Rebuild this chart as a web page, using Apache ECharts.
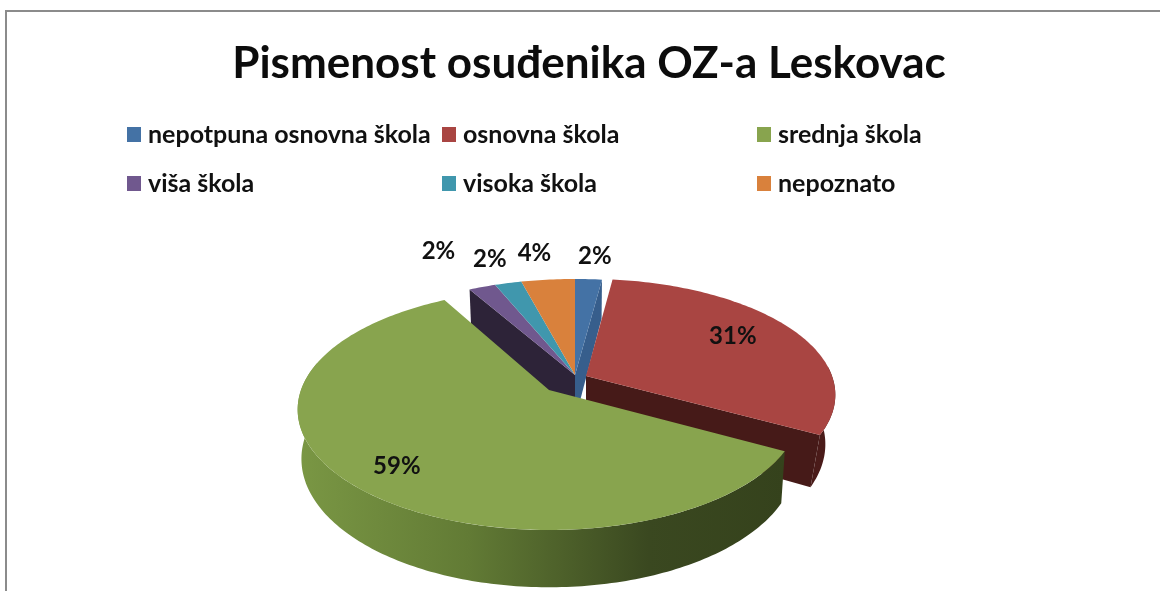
<!DOCTYPE html>
<html>
<head>
<meta charset="utf-8">
<style>html,body{margin:0;padding:0;background:#fff}#c{width:1160px;height:591px}</style>
<script src="https://cdn.jsdelivr.net/npm/echarts@6/dist/echarts.min.js"></script>
</head>
<body>
<div id="c"></div>
<script>
var titleText = 'Pismenost osuđenika OZ-a Leskovac';
var categories = ['nepotpuna osnovna škola', 'osnovna škola', 'srednja škola', 'viša škola', 'visoka škola', 'nepoznato'];
var values = [2, 31, 59, 2, 2, 4];

var topColors = ['#4472A5', '#A94542', '#88A44E', '#70588E', '#4097AD', '#D9813C'];
var legendPos = [[127, 122], [442, 122], [757, 122], [127, 171], [442, 171], [757, 171]];

// perspective geometry of the three exploded groups
var groupSmall = {cx: 575, cy: 375, a: 250, b: 111.6, p: 0.1626, d: 45, shrink: 0.985};
var groupRed   = {cx: 586, cy: 376, a: 246, b: 113,   p: 0.1626, d: 48, shrink: 0.96};
var groupGreen = {cx: 549, cy: 390, a: 248, b: 117.2, p: 0.1626, d: 48, shrink: 0.985};
var sliceGroup = [groupSmall, groupRed, groupGreen, groupSmall, groupSmall, groupSmall];
// label placement: radial factor, nudge x, nudge y
var labelPlace = [[1.2, 4, -7], [0.72, -3, -5], [0.85, 13, -2], [1.2, -28, -21], [1.2, -7, -8], [1.2, -9, -10]];
var drawOrder = [3, 4, 5, 0, 1, 2];

var total = values.reduce(function (s, v) { return s + v; }, 0);
var starts = [];
values.reduce(function (s, v, i) { starts[i] = s; return s + v; }, 0);

function project(g, deg, r, lower) {
  var t = deg * Math.PI / 180;
  var X = r * Math.sin(t), Z = -r * Math.cos(t);
  var w = 1 - g.p * Z;
  var dx = g.a * X / w, dy = g.b * Z / w;
  if (lower) { dx *= g.shrink; dy += g.d / w; }
  return [g.cx + dx, g.cy + dy];
}
function arc(g, a0, a1, lower) {
  var pts = [], n = Math.max(2, Math.ceil(Math.abs(a1 - a0)));
  for (var i = 0; i <= n; i++) pts.push(project(g, a0 + (a1 - a0) * i / n, 1, lower));
  return pts;
}
function poly(points, fill) {
  return {type: 'polygon', shape: {points: points}, style: {fill: fill, stroke: null}};
}
function cutFace(g, deg, fill) {
  return poly([project(g, deg, 1, false), project(g, deg, 0, false), project(g, deg, 0, true), project(g, deg, 1, true)], fill);
}
function sideFace(g, a0, a1, fill) {
  return poly(arc(g, a0, a1, false).concat(arc(g, a0, a1, true).reverse()), fill);
}

function makeRender(i) {
  return function (params, api) {
    var v = api.value(0);
    var g = sliceGroup[i];
    var a0 = starts[i] / total * 360, a1 = a0 + v / total * 360;
    var kids = [];
    if (i === 0) kids.push(cutFace(g, a1, '#375E8C'));
    if (i === 3) kids.push(cutFace(g, a0, '#2D2338'));
    if (i === 1) {
      kids.push(sideFace(g, 85, a1, '#4A1B19'));
      kids.push(cutFace(g, a1, '#461A18'));
    }
    if (i === 2) {
      kids.push(sideFace(g, a0, 284, new echarts.graphic.LinearGradient(0, 0, 1, 0, [
        {offset: 0, color: '#7A9744'},
        {offset: 0.35, color: '#627B35'},
        {offset: 0.72, color: '#3A4820'},
        {offset: 1, color: '#35421C'}
      ])));
    }
    kids.push(poly([project(g, a0, 0, false)].concat(arc(g, a0, a1, false)), topColors[i]));
    var lp = labelPlace[i];
    var c = project(g, (a0 + a1) / 2, lp[0], false);
    kids.push({
      type: 'text', z2: 100,
      style: {
        x: c[0] + lp[1], y: c[1] + lp[2], text: Math.round(v / total * 100) + '%',
        fill: '#111', font: 'bold 24px Lato', align: 'center', verticalAlign: 'middle'
      }
    });
    return {type: 'group', children: kids};
  };
}

var chart = echarts.init(document.getElementById('c'), null, {renderer: 'canvas'});
chart.setOption({
  animation: false,
  backgroundColor: '#fff',
  title: {
    text: titleText, left: 584, top: 37, textAlign: 'center',
    textStyle: {fontFamily: 'Lato', fontWeight: 'bold', fontSize: 44, color: '#0c0c0c'}
  },
  legend: categories.map(function (name, i) {
    return {
      data: [name], left: legendPos[i][0], top: legendPos[i][1],
      icon: 'rect', itemWidth: 14, itemHeight: 15, itemGap: 0, padding: 0,
      selectedMode: false,
      textStyle: {fontFamily: 'Lato', fontWeight: 'bold', fontSize: 25, color: '#111', padding: [0, 0, 0, 2]}
    };
  }),
  graphic: [{
    type: 'polyline', silent: true,
    shape: {points: [[6, 591], [6, 11], [1160, 11]]},
    style: {stroke: '#8B8B8B', lineWidth: 2, fill: null}
  }],
  series: drawOrder.map(function (i, k) {
    return {
      type: 'custom', name: categories[i], coordinateSystem: 'none', z: 2 + k,
      itemStyle: {color: topColors[i]},
      data: [values[i]],
      renderItem: makeRender(i)
    };
  })
});
</script>
</body>
</html>
